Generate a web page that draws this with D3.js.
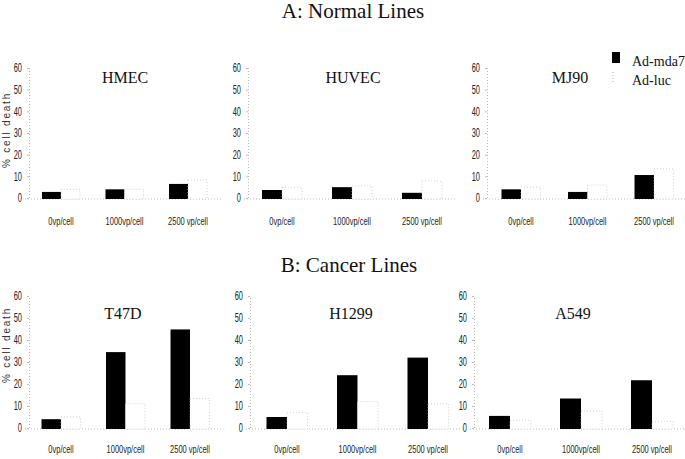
<!DOCTYPE html>
<html>
<head>
<meta charset="utf-8">
<script src="https://cdn.jsdelivr.net/npm/d3@7"></script>
<style>
  html, body { margin: 0; padding: 0; background: #fff; }
  svg { display: block; }
</style>
</head>
<body>
<svg id="chart" width="685" height="459"></svg>
<script>
// ---- data ----
const categories = ["0vp/cell", "1000vp/cell", "2500 vp/cell"];
const seriesNames = ["Ad-mda7", "Ad-luc"];
const yTicks = [0, 10, 20, 30, 40, 50, 60];
const sectionTitles = ["A: Normal Lines", "B: Cancer Lines"];
const panelNames = ["HMEC", "HUVEC", "MJ90", "T47D", "H1299", "A549"];
const mda7Values = [
  [2.8, 4, 6.5],     // HMEC
  [3.7, 5, 2.4],     // HUVEC
  [4, 2.8, 10.6],    // MJ90
  [4, 34.5, 44.8],   // T47D
  [5, 24, 32],       // H1299
  [5.5, 13.4, 21.7]  // A549
];
const lucValues = [
  [4, 4, 8.3],
  [5, 5.5, 7.8],
  [5, 6, 13.5],
  [5, 11, 13.4],
  [7, 12, 11],
  [3.5, 7.8, 3]
];

// ---- layout (not data) ----
const layout = [
  { axisX: 29,  c1: 61,  c3: 188, bw: 19,   row: 0, titleX: 125 },
  { axisX: 248, c1: 282, c3: 422, bw: 20,   row: 0, titleX: 353 },
  { axisX: 487, c1: 521, c3: 654, bw: 19.5, row: 0, titleX: 570 },
  { axisX: 29,  c1: 61,  c3: 190, bw: 19.5, row: 1, titleX: 123 },
  { axisX: 250, c1: 287, c3: 428, bw: 20.5, row: 1, titleX: 351 },
  { axisX: 474, c1: 510, c3: 652, bw: 21,   row: 1, titleX: 573 }
];
const rows = [
  { y0: 198, y60: 68, labelY: 225, titleY: 83, ylabelY: 130, secY: 18 },
  { y0: 428, y60: 296, labelY: 453, titleY: 319, ylabelY: 345, secY: 272 }
];

const svg = d3.select("#chart");
const serif = "'Liberation Serif', 'Times New Roman', serif";
const sans = "'Liberation Sans', Arial, sans-serif";
const SX = 0.62; // horizontal condensing of the narrow sans labels

// section titles
svg.append("text").attr("x", 353).attr("y", rows[0].secY)
  .attr("text-anchor", "middle").attr("font-family", serif)
  .attr("font-size", 21).attr("fill", "#111").text(sectionTitles[0]);
svg.append("text").attr("x", 349).attr("y", rows[1].secY)
  .attr("text-anchor", "middle").attr("font-family", serif)
  .attr("font-size", 21).attr("fill", "#111").text(sectionTitles[1]);

layout.forEach((L, i) => {
  const R = rows[L.row];
  const y = d3.scaleLinear().domain([0, 60]).range([R.y0, R.y60]);
  const x = d3.scalePoint().domain(categories).range([L.c1, L.c3]);
  const g = svg.append("g");

  // y axis
  const ax = g.append("g").attr("transform", `translate(${L.axisX},0)`)
    .call(d3.axisLeft(y).tickValues(yTicks).tickSize(2).tickPadding(5));
  ax.select(".domain").attr("stroke", "#bbb").attr("stroke-dasharray", "1,2");
  ax.selectAll(".tick line").attr("stroke", "#bbb");
  ax.selectAll(".tick text").attr("font-family", sans).attr("font-size", 12)
    .attr("fill", "#222").attr("x", null)
    .attr("transform", `translate(-7,0) scale(${SX},1)`);

  // baseline
  g.append("line").attr("x1", L.axisX - 4).attr("x2", L.c3 + L.bw + 14)
    .attr("y1", y(0) + 1).attr("y2", y(0) + 1)
    .attr("stroke", "#bbb").attr("stroke-dasharray", "1,2");

  // x labels
  g.selectAll("text.xl").data(categories).join("text").attr("class", "xl")
    .attr("transform", d => `translate(${x(d)},${R.labelY}) scale(0.68,1)`)
    .attr("text-anchor", "middle").attr("font-family", sans)
    .attr("font-size", 11).attr("fill", "#222").text(d => d);

  // Ad-mda7 bars (black)
  g.selectAll("rect.m").data(mda7Values[i]).join("rect").attr("class", "m")
    .attr("x", (d, j) => x(categories[j]) - L.bw)
    .attr("width", L.bw)
    .attr("y", d => y(d)).attr("height", d => y(0) + 1 - y(d))
    .attr("fill", "#000");

  // Ad-luc bars (white, faint dotted outline)
  g.selectAll("rect.l").data(lucValues[i]).join("rect").attr("class", "l")
    .attr("x", (d, j) => x(categories[j]))
    .attr("width", L.bw)
    .attr("y", d => y(d)).attr("height", d => y(0) + 1 - y(d))
    .attr("fill", "#fff").attr("stroke", "#c8c8c8")
    .attr("stroke-width", 0.8).attr("stroke-dasharray", "1,2");

  // panel title
  g.append("text").attr("x", L.titleX).attr("y", R.titleY)
    .attr("text-anchor", "middle").attr("font-family", serif)
    .attr("font-size", 16).attr("fill", "#111").text(panelNames[i]);

  // y label on left panels
  if (i === 0 || i === 3) {
    g.append("text")
      .attr("transform", `translate(10,${R.ylabelY}) rotate(-90)`)
      .attr("text-anchor", "middle").attr("font-family", sans)
      .attr("font-size", 10).attr("letter-spacing", 1.8).attr("fill", "#333")
      .text("% cell death");
  }
});

// legend
const leg = svg.append("g");
leg.append("rect").attr("x", 612).attr("y", 52).attr("width", 8).attr("height", 11).attr("fill", "#000");
leg.append("line").attr("x1", 613).attr("x2", 613).attr("y1", 72).attr("y2", 84)
  .attr("stroke", "#aaa").attr("stroke-dasharray", "1,2");
leg.selectAll("text.lg").data(seriesNames).join("text").attr("class", "lg")
  .attr("x", 632).attr("y", (d, k) => 66 + k * 19)
  .attr("font-family", serif).attr("font-size", 14)
  .attr("fill", "#111").text(d => d);
</script>
</body>
</html>
